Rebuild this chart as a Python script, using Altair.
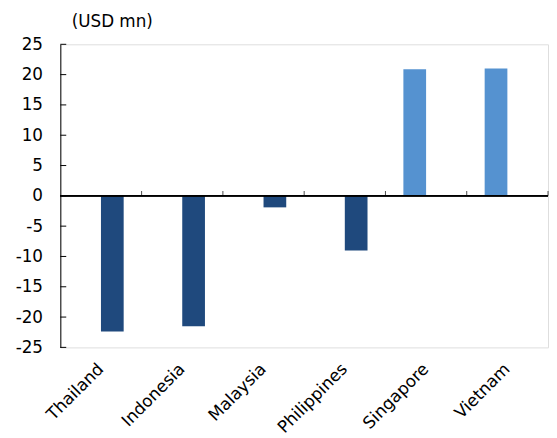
import altair as alt
import pandas as pd

countries = ["Thailand", "Indonesia", "Malaysia", "Philippines", "Singapore", "Vietnam"]
inflow = [None, None, None, None, 20.9, 21.0]
outflow = [-22.4, -21.5, -1.9, -9.0, None, None]
y_ticks = [-25, -20, -15, -10, -5, 0, 5, 10, 15, 20, 25]
series_names = ["Inflow", "Outflow"]
series_colors = ["#5592D0", "#1F497D"]

rows = []
for c, a, b in zip(countries, inflow, outflow):
    if a is not None:
        rows.append({"country": c, "series": "Inflow", "value": a})
    if b is not None:
        rows.append({"country": c, "series": "Outflow", "value": b})
bars_df = pd.DataFrame(rows)
cat_df = pd.DataFrame({"country": countries})
tick_df = pd.DataFrame({"v": y_ticks})

FONT = "DejaVu Sans"
FS = 17

xscale = alt.Scale(domain=countries, paddingInner=0, paddingOuter=0)
yscale = alt.Scale(domain=[-25, 25], nice=False, zero=False)

x_axis = alt.Axis(title=None, orient="bottom", domain=False, ticks=False,
                  labelAngle=-45, labelAlign="right", labelBaseline="middle",
                  labelPadding=19, labelFont=FONT, labelFontSize=FS,
                  labelColor="black", labelOverlap=False, labelLimit=300)
y_axis = alt.Axis(values=y_ticks, grid=False, ticks=False, domainColor="black",
                  domainWidth=1, labelPadding=18, labelFont=FONT,
                  labelFontSize=FS, labelColor="black", labelOverlap=False,
                  labelExpr="toString(datum.value)",
                  title="(USD mn)", titleAngle=0, titleAlign="left",
                  titleBaseline="middle", titleX=11, titleY=-23,
                  titleFont=FONT, titleFontSize=FS, titleFontWeight="normal",
                  titleColor="black")

bars = alt.Chart(bars_df).mark_bar().encode(
    x=alt.X("country:N", scale=xscale, sort=countries, axis=x_axis),
    xOffset=alt.XOffset("series:N", scale=alt.Scale(domain=series_names,
                                                     paddingOuter=0.79, paddingInner=0)),
    y=alt.Y("value:Q", scale=yscale, axis=y_axis),
    color=alt.Color("series:N", scale=alt.Scale(domain=series_names, range=series_colors),
                    legend=None),
)

zero_line = alt.Chart(cat_df).mark_rule(color="black", strokeWidth=1).encode(
    y=alt.datum(0, scale=yscale, axis=y_axis)
)

x_ticks = alt.Chart(cat_df).mark_tick(orient="vertical", size=5, thickness=1,
                                      color="black", yOffset=-2.5).encode(
    x=alt.X("country:N", scale=xscale, sort=countries, bandPosition=1, axis=x_axis),
    y=alt.datum(0, scale=yscale, axis=y_axis),
)

y_tick_marks = alt.Chart(tick_df).mark_rule(color="black", strokeWidth=1).encode(
    x=alt.value(0), x2=alt.value(6),
    y=alt.Y("v:Q", scale=yscale, axis=y_axis),
)

chart = alt.layer(bars, zero_line, x_ticks, y_tick_marks).properties(
    width=494, height=307,
    autosize=alt.AutoSizeParams(type="none"),
    padding={"left": 53, "top": 34, "right": 1, "bottom": 88},
).configure_view(stroke=None).configure(background="white")

chart.save("out.html", embed_options={"renderer": "svg", "actions": False})
